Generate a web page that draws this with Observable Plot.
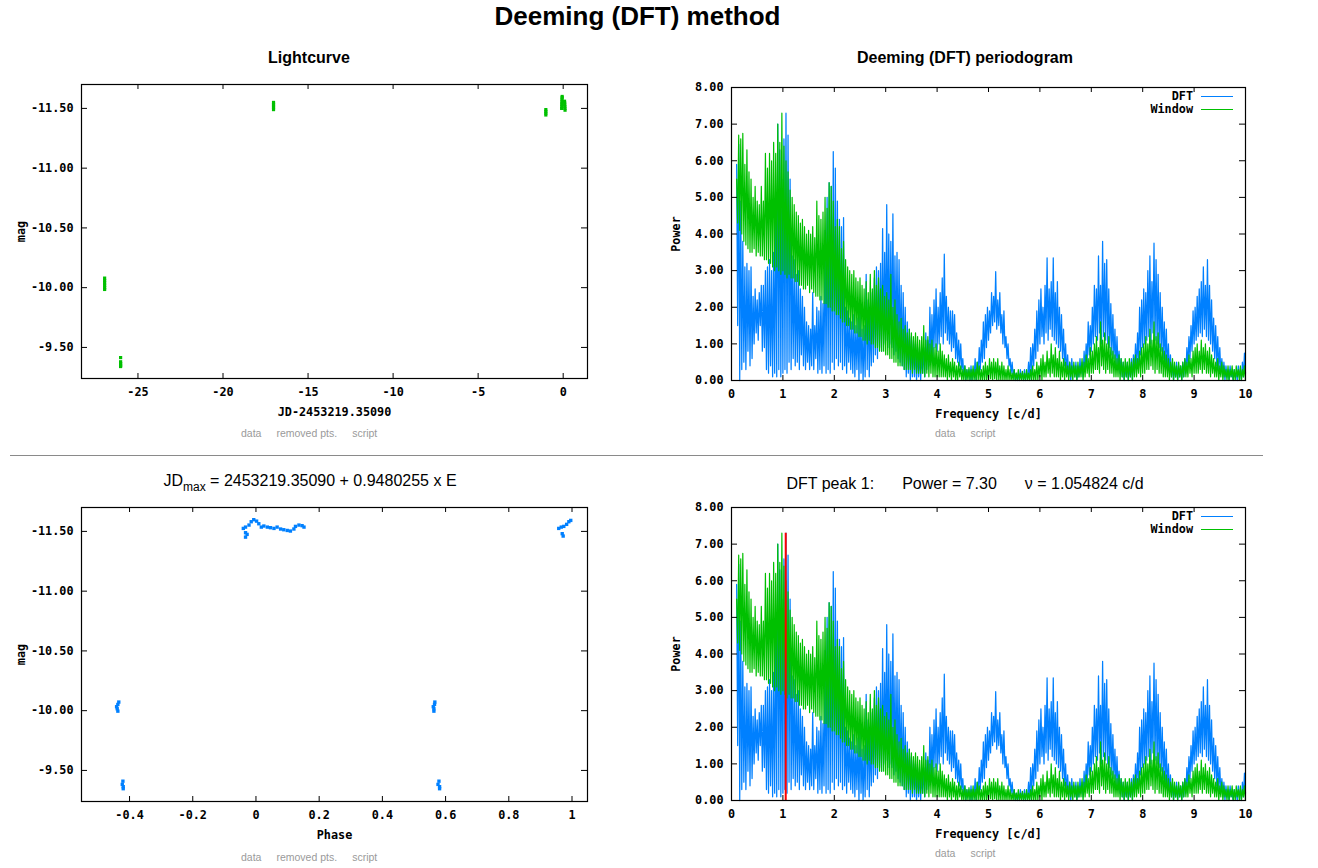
<!DOCTYPE html>
<html>
<head>
<meta charset="utf-8">
<script src="https://cdn.jsdelivr.net/npm/d3@7"></script>
<script src="https://cdn.jsdelivr.net/npm/@observablehq/plot@0.6"></script>
<style>
  body { margin: 0; background: #fff; }
  #root { position: relative; width: 1318px; height: 868px; overflow: hidden; background: #fff;
          font-family: "Liberation Sans", Arial, sans-serif; color: #000; }
  .abs { position: absolute; white-space: pre; }
  .main-title { left: 0; width: 1275px; top: 3px; text-align: center; font-size: 26px; line-height: 26px; font-weight: bold; }
  .sub-title { width: 600px; text-align: center; font-size: 16px; line-height: 16px; font-weight: bold; }
  .info { width: 600px; text-align: center; font-size: 16px; line-height: 16px; }
  .info sub { font-size: 12px; vertical-align: -5px; line-height: 0; }
  .links { font-size: 10.5px; line-height: 12px; color: #9a9a9a; }
  .links span { margin-right: 15px; }
  .sep { left: 10px; width: 1253px; height: 1px; background: #8a8a8a; top: 455px; }
  .legend-text { font-family: "DejaVu Sans Mono", monospace; font-weight: bold; font-size: 11.8px; line-height: 12px; text-align: right; width: 80px; }
  .legend-line { height: 1px; width: 32px; }
  .panel { position: absolute; }
  .panel svg { overflow: visible; }
</style>
</head>
<body>
<div id="root"></div>
<script>
// ---------------- data ----------------
// Lightcurve (JD - 2453219.35090, mag)
const lcTime = [-26.96, -26.96, -26.96, -26.96, -26.96, -26.96,
                -26.02, -26.02, -26.02, -26.02, -26.02,
                -17.03, -17.03, -17.03, -17.03, -17.03,
                -1.02, -1.02, -1.02, -1.02,
                -0.09, -0.08, -0.08, -0.08, -0.07, -0.07, -0.06, -0.06,
                0.08, 0.09, 0.09, 0.10, 0.10, 0.11];
const lcMag = [-10.08, -10.06, -10.04, -10.02, -10.00, -9.985,
               -9.415, -9.38, -9.365, -9.35, -9.34,
               -11.55, -11.535, -11.52, -11.505, -11.49,
               -11.49, -11.475, -11.46, -11.445,
               -11.50, -11.515, -11.53, -11.545, -11.56, -11.575, -11.59, -11.60,
               -11.56, -11.545, -11.53, -11.515, -11.50, -11.485];

// Phase diagram (phase, mag)
const phPhase = [-0.040, -0.033, -0.022, -0.015, -0.007, 0.002, 0.009, 0.017, 0.025, 0.036, 0.046, 0.057,
                 0.067, 0.078, 0.088, 0.099, 0.109, 0.120, 0.125, 0.136, 0.146, 0.152,
                 -0.033, -0.033, -0.028,
                 0.958, 0.966, 0.974, 0.983, 0.990, 0.996, 0.969, 0.972,
                 -0.434, -0.437, -0.441, -0.439, -0.437,
                 -0.421, -0.423, -0.420, -0.420,
                 0.566, 0.565, 0.561, 0.563, 0.563,
                 0.579, 0.576, 0.581, 0.581];
const phMag = [-11.525, -11.536, -11.553, -11.581, -11.598, -11.586, -11.564, -11.536, -11.545, -11.536, -11.531, -11.525,
               -11.536, -11.520, -11.514, -11.508, -11.503, -11.520, -11.542, -11.553, -11.548, -11.536,
               -11.489, -11.452, -11.475,
               -11.525, -11.536, -11.542, -11.559, -11.581, -11.592, -11.481, -11.461,
               -10.072, -10.052, -10.033, -10.016, -9.996,
               -9.410, -9.383, -9.364, -9.347,
               -10.072, -10.052, -10.033, -10.016, -9.996,
               -9.410, -9.383, -9.364, -9.347];

// Periodogram: alternating spike maxima / minima
// maxima at freqStart + j*freqStep, minima half a step later; one row per c/d
const freqStart = 0.10;
const freqStep = 0.04;
const dftHigh = [
  5.9, 6.45, 4.9, 3.8, 3.1, 3.2, 3.0, 3.1, 2.3, 2.5, 2.2, 2.4, 2.6, 2.6, 3.0, 3.1, 3.3, 3.0, 3.5, 4.6, 7.0, 6.3, 5.5, 6.6, 7.3,
  6.7, 5.5, 3.4, 3.3, 2.9, 3.0, 2.5, 2.3, 2.0, 1.6, 1.5, 1.4, 2.4, 1.5, 2.0, 1.9, 2.3, 2.1, 4.1, 5.0, 5.4, 5.3, 6.25, 5.8, 4.9,
  4.4, 4.2, 4.45, 2.0, 1.9, 1.7, 1.6, 1.8, 1.5, 1.7, 2.0, 1.4, 1.5, 2.9, 2.2, 1.8, 2.4, 2.8, 3.1, 3.0, 3.2, 4.15, 3.5, 4.8, 4.0,
  3.8, 4.55, 3.4, 3.5, 3.3, 2.6, 2.4, 2.0, 1.6, 1.4, 1.2, 1.1, 1.0, 0.9, 0.8, 0.7, 0.9, 1.3, 1.1, 2.0, 1.8, 2.2, 2.5, 2.0, 2.4,
  2.8, 3.45, 2.3, 2.0, 1.9, 1.9, 1.8, 1.3, 1.1, 1.0, 0.6, 0.4, 0.3, 0.3, 0.4, 0.3, 0.6, 0.5, 0.9, 1.1, 1.6, 1.8, 2.0, 1.9, 2.4,
  2.3, 2.97, 2.2, 2.4, 1.8, 1.9, 1.2, 1.0, 0.6, 0.5, 0.3, 0.2, 0.2, 0.3, 0.2, 0.3, 0.2, 0.5, 0.9, 1.0, 1.4, 1.9, 2.2, 2.5, 2.0,
  2.6, 3.35, 2.5, 2.7, 3.35, 2.4, 2.7, 2.0, 1.8, 1.4, 1.0, 0.7, 0.5, 0.6, 0.4, 0.5, 0.4, 0.6, 0.5, 0.8, 1.0, 1.6, 1.5, 2.0, 2.6,
  2.5, 3.4, 2.6, 3.8, 3.2, 3.3, 2.5, 2.1, 1.8, 1.4, 1.2, 0.8, 0.6, 0.5, 0.4, 0.5, 0.4, 0.6, 0.7, 1.0, 1.3, 2.0, 2.2, 2.5, 2.4,
  3.0, 3.4, 2.7, 3.75, 3.3, 2.9, 2.4, 2.0, 1.6, 1.4, 1.0, 0.7, 0.5, 0.4, 0.5, 0.4, 0.4, 0.5, 0.6, 0.9, 1.2, 1.5, 1.9, 2.0, 2.3,
  2.5, 2.7, 3.1, 2.6, 3.3, 2.6, 2.2, 1.7, 1.5, 1.2, 0.9, 0.6, 0.5, 0.4, 0.3, 0.4, 0.2, 0.3, 0.2, 0.4, 0.3, 0.5, 0.75
];
const dftLow = [
  1.5, 0.0, 0.3, 0.5, 0.3, 0.8, 0.4, 0.6, 1.0, 1.3, 1.1, 1.5, 0.8, 0.9, 0.3, 0.2, 0.4, 0.1, 0.2, 0.1, 0.3, 0.1, 0.2, 0.3, 0.2,
  0.5, 0.3, 0.6, 0.4, 0.5, 0.3, 0.7, 0.4, 0.3, 0.5, 0.3, 0.4, 0.3, 0.6, 0.2, 0.3, 0.2, 0.4, 0.2, 0.3, 0.2, 0.5, 0.3, 0.6, 0.4,
  0.5, 0.3, 0.4, 0.2, 0.5, 0.3, 0.2, 0.1, 0.3, 0.0, 0.2, 0.0, 0.1, 0.3, 0.1, 0.4, 0.5, 0.7, 0.6, 0.9, 0.8, 1.0, 1.1, 0.9, 1.0,
  0.9, 0.7, 0.8, 0.6, 0.5, 0.4, 0.3, 0.1, 0.2, 0.0, 0.1, 0.1, 0.0, 0.1, 0.0, 0.2, 0.1, 0.3, 0.4, 0.5, 0.6, 0.9, 0.8, 1.0, 1.2,
  1.0, 1.3, 1.1, 1.0, 0.8, 0.9, 0.6, 0.5, 0.4, 0.3, 0.1, 0.0, 0.1, 0.0, 0.0, 0.1, 0.0, 0.2, 0.3, 0.5, 0.6, 0.9, 1.1, 1.3, 1.5,
  1.6, 1.4, 1.5, 1.3, 1.0, 0.9, 0.6, 0.4, 0.2, 0.1, 0.0, 0.0, 0.0, 0.1, 0.0, 0.0, 0.1, 0.0, 0.2, 0.4, 0.6, 0.8, 1.0, 1.2, 1.0,
  1.3, 1.1, 1.4, 1.2, 1.1, 1.0, 0.9, 0.8, 0.6, 0.4, 0.2, 0.1, 0.0, 0.2, 0.1, 0.0, 0.1, 0.2, 0.1, 0.3, 0.5, 0.7, 0.8, 1.0, 1.2,
  1.1, 1.3, 1.0, 1.2, 1.1, 1.0, 0.9, 0.7, 0.6, 0.4, 0.3, 0.2, 0.1, 0.0, 0.1, 0.0, 0.1, 0.0, 0.2, 0.3, 0.5, 0.7, 0.9, 1.0, 1.1,
  1.2, 1.0, 1.3, 1.1, 1.0, 0.9, 0.8, 0.6, 0.5, 0.3, 0.2, 0.1, 0.0, 0.1, 0.0, 0.1, 0.0, 0.1, 0.2, 0.4, 0.6, 0.8, 1.0, 1.1, 1.2,
  1.3, 1.2, 1.4, 1.2, 1.1, 1.0, 0.8, 0.6, 0.4, 0.3, 0.2, 0.1, 0.0, 0.1, 0.0, 0.1, 0.0, 0.1, 0.0, 0.1, 0.0, 0.1, 0.2
];
const winHigh = [
  5.5, 6.7, 6.6, 6.75, 5.9, 6.3, 5.7, 5.5, 5.0, 5.3, 4.9, 4.8, 5.3, 4.9, 6.2, 5.8, 6.2, 6.0, 6.5, 6.2, 7.0, 6.5, 7.3, 6.4, 6.0,
  5.7, 5.2, 5.0, 4.8, 4.6, 4.5, 4.3, 4.4, 4.2, 4.0, 4.1, 4.0, 4.2, 3.9, 4.9, 4.5, 4.4, 4.6, 5.0, 4.7, 5.4, 5.3, 4.9, 4.2, 4.4,
  4.2, 3.6, 3.8, 3.3, 3.1, 3.0, 2.9, 3.0, 2.8, 2.7, 2.8, 2.6, 2.5, 2.7, 2.4, 2.9, 2.5, 3.0, 2.6, 2.8, 2.5, 2.6, 2.3, 2.4, 2.2,
  2.9, 2.0, 2.2, 1.8, 1.6, 1.7, 1.4, 1.5, 1.3, 1.4, 1.3, 1.2, 1.3, 1.2, 1.1, 1.2, 1.5, 1.1, 1.2, 1.0, 1.1, 0.9, 1.0, 0.8, 1.0,
  0.8, 0.7, 0.6, 0.7, 0.5, 0.6, 0.5, 0.4, 0.5, 0.4, 0.3, 0.4, 0.3, 0.35, 0.3, 0.4, 0.3, 0.5, 0.4, 0.3, 0.4, 0.5, 0.4, 0.6, 0.5,
  0.6, 0.5, 0.6, 0.4, 0.5, 0.4, 0.3, 0.4, 0.3, 0.2, 0.3, 0.2, 0.3, 0.2, 0.25, 0.2, 0.3, 0.2, 0.3, 0.4, 0.3, 0.5, 0.4, 0.6, 0.7,
  0.5, 0.8, 0.6, 1.0, 0.7, 0.9, 0.6, 0.8, 0.5, 0.6, 0.5, 0.4, 0.5, 0.4, 0.5, 0.4, 0.5, 0.4, 0.6, 0.5, 0.7, 0.6, 0.9, 0.8, 1.0,
  1.2, 0.9, 1.6, 1.1, 1.3, 1.0, 1.2, 0.9, 0.8, 0.7, 0.6, 0.7, 0.6, 0.5, 0.6, 0.5, 0.6, 0.5, 0.6, 0.7, 0.6, 0.8, 0.9, 1.0, 1.2,
  1.0, 1.4, 1.1, 1.6, 1.2, 1.3, 1.0, 0.9, 0.8, 0.7, 0.6, 0.5, 0.6, 0.5, 0.4, 0.5, 0.4, 0.5, 0.6, 0.5, 0.7, 0.6, 0.8, 0.9, 1.0,
  0.8, 1.1, 0.9, 1.0, 0.8, 0.9, 0.7, 0.6, 0.5, 0.6, 0.4, 0.5, 0.4, 0.3, 0.4, 0.3, 0.4, 0.3, 0.4, 0.3, 0.4, 0.3, 0.4
];
const winLow = [
  4.3, 4.1, 4.0, 3.8, 3.7, 3.6, 3.5, 3.5, 3.6, 3.4, 3.5, 3.4, 3.4, 3.3, 3.3, 3.2, 3.2, 3.1, 3.0, 3.1, 3.0, 2.9, 3.0, 2.9, 2.8,
  2.9, 2.8, 2.8, 2.7, 2.7, 2.6, 2.6, 2.5, 2.5, 2.6, 2.4, 2.5, 2.4, 2.3, 2.3, 2.2, 2.2, 2.1, 2.1, 2.0, 2.0, 1.9, 1.9, 1.8, 1.8,
  1.7, 1.6, 1.6, 1.5, 1.5, 1.4, 1.4, 1.3, 1.3, 1.2, 1.2, 1.1, 1.1, 1.0, 1.1, 1.0, 1.0, 0.9, 0.9, 0.8, 0.8, 0.8, 0.7, 0.7, 0.6,
  0.6, 0.5, 0.5, 0.4, 0.4, 0.4, 0.3, 0.3, 0.3, 0.3, 0.2, 0.3, 0.2, 0.2, 0.2, 0.2, 0.1, 0.2, 0.1, 0.2, 0.1, 0.1, 0.1, 0.1, 0.1,
  0.1, 0.1, 0.0, 0.1, 0.0, 0.1, 0.0, 0.0, 0.1, 0.0, 0.0, 0.0, 0.0, 0.0, 0.0, 0.0, 0.0, 0.0, 0.0, 0.0, 0.0, 0.0, 0.0, 0.05, 0.0,
  0.05, 0.0, 0.0, 0.0, 0.0, 0.0, 0.0, 0.0, 0.0, 0.0, 0.0, 0.0, 0.0, 0.0, 0.0, 0.0, 0.0, 0.0, 0.0, 0.0, 0.0, 0.0, 0.1, 0.0, 0.1,
  0.1, 0.2, 0.1, 0.2, 0.1, 0.1, 0.1, 0.0, 0.1, 0.0, 0.1, 0.0, 0.1, 0.0, 0.1, 0.0, 0.1, 0.1, 0.0, 0.1, 0.2, 0.1, 0.2, 0.2, 0.3,
  0.3, 0.2, 0.4, 0.3, 0.2, 0.3, 0.2, 0.2, 0.1, 0.1, 0.1, 0.0, 0.1, 0.0, 0.1, 0.0, 0.1, 0.0, 0.1, 0.1, 0.2, 0.1, 0.2, 0.2, 0.3,
  0.3, 0.4, 0.3, 0.2, 0.3, 0.2, 0.2, 0.1, 0.1, 0.1, 0.0, 0.1, 0.0, 0.1, 0.0, 0.1, 0.0, 0.1, 0.1, 0.1, 0.2, 0.1, 0.2, 0.2, 0.2,
  0.3, 0.2, 0.3, 0.2, 0.2, 0.1, 0.2, 0.1, 0.1, 0.0, 0.1, 0.0, 0.1, 0.0, 0.0, 0.1, 0.0, 0.0, 0.1, 0.0, 0.0, 0.1, 0.0
];
const peakFreq = 1.054824;
const peakPower = 7.30;
const epochJD = "2453219.35090";
const periodDays = "0.9480255";

// Axis ticks and ranges
const jdTicks = [-25, -20, -15, -10, -5, 0];
const magTicks = [-11.5, -11.0, -10.5, -10.0, -9.5];
const phaseTicks = [-0.4, -0.2, 0, 0.2, 0.4, 0.6, 0.8, 1];
const freqTicks = [0, 1, 2, 3, 4, 5, 6, 7, 8, 9, 10];
const powerTicks = [0, 1, 2, 3, 4, 5, 6, 7, 8];
const jdDomain = [-28.32, 1.43];
const magDomain = [-9.24, -11.70];
const phaseDomain = [-0.552, 1.049];
const freqDomain = [0, 10];
const powerDomain = [0, 8];

// colours
const cGreen = "#00c000";
const cBlue = "#0080ff";
const cRed = "#ff0000";

// ---------------- helpers ----------------
const root = document.getElementById("root");
function add(cls, html, style) {
  const d = document.createElement("div");
  d.className = "abs " + cls;
  d.innerHTML = html;
  Object.assign(d.style, style || {});
  root.appendChild(d);
  return d;
}

function zigzag(high, low) {
  const out = [];
  high.forEach((h, j) => {
    out.push({f: freqStart + freqStep * j, p: h});
    out.push({f: freqStart + freqStep * j + freqStep / 2, p: low[j]});
  });
  return out;
}

function panel(o) {
  const fw = o.width - o.ml - o.mr, fh = o.height - o.mt - o.mb;
  const svg = Plot.plot({
    width: o.width, height: o.height,
    marginTop: o.mt, marginRight: o.mr, marginBottom: o.mb, marginLeft: o.ml,
    style: {fontFamily: '"DejaVu Sans Mono", monospace', fontSize: "11.8px", fontWeight: "bold",
            background: "transparent", color: "black", overflow: "visible"},
    x: {domain: o.xDomain},
    y: {domain: o.yDomain},
    marks: [
      ...o.marks,
      Plot.ruleX(o.xTicks, {insetTop: fh - 5, stroke: "black"}),
      Plot.ruleX(o.xTicks, {insetBottom: fh - 5, stroke: "black"}),
      Plot.ruleY(o.yTicks, {insetRight: fw - 6, stroke: "black"}),
      Plot.ruleY(o.yTicks, {insetLeft: fw - 6, stroke: "black"}),
      Plot.frame({stroke: "black", strokeWidth: 1.2}),
      Plot.axisX(o.xTicks, {anchor: "bottom", tickSize: 0, tickPadding: 9, tickFormat: o.xFmt,
        label: o.xLabel, labelAnchor: "center", labelOffset: 37, labelArrow: "none"}),
      Plot.axisY(o.yTicks, {anchor: "left", tickSize: 0, tickPadding: 8, tickFormat: o.yFmt,
        label: o.yLabel, labelAnchor: "center", labelOffset: o.yLabelOffset, labelArrow: "none"})
    ]
  });
  const wrap = document.createElement("div");
  wrap.className = "panel";
  wrap.style.left = o.left + "px";
  wrap.style.top = o.top + "px";
  wrap.appendChild(svg);
  root.appendChild(wrap);
}

const fmt2 = d => d.toFixed(2);
const fmtPlain = d => String(d);

// ---------------- texts ----------------
add("main-title", "Deeming (DFT) method");
add("sub-title", "Lightcurve", {left: "9px", top: "50px"});
add("sub-title", "Deeming (DFT) periodogram", {left: "665px", top: "50px"});
add("info", `JD<sub>max</sub> = ${epochJD} + ${periodDays} x E`, {left: "10px", top: "473px"});
add("info", `DFT peak 1:<span style="margin-left:28px">Power = ${peakPower.toFixed(2)}</span><span style="margin-left:28px">ν = ${peakFreq.toFixed(6)} c/d</span>`,
    {left: "665px", top: "476px"});
add("sep", "");

function links(x, y, withRemoved) {
  add("links", `<span>data</span>${withRemoved ? "<span>removed pts.</span>" : ""}<span style="margin-right:0">script</span>`,
      {left: x + "px", top: y + "px"});
}
links(241, 427, true);
links(935, 427, false);
links(241, 851, true);
links(935, 847, false);

function legend(top) {
  add("legend-text", "DFT", {left: "1113px", top: (top - 6) + "px"});
  add("legend-line", "", {left: "1201px", top: top + "px", background: cBlue});
  add("legend-text", "Window", {left: "1113px", top: (top + 7) + "px"});
  add("legend-line", "", {left: "1201px", top: (top + 13) + "px", background: cGreen});
}

// ---------------- panels ----------------
const lcData = lcTime.map((t, i) => ({t, m: lcMag[i]}));
const phData = phPhase.map((p, i) => ({p, m: phMag[i]}));
const dftLine = zigzag(dftHigh, dftLow);
const winLine = zigzag(winHigh, winLow);

panel({
  left: 0, top: 70, width: 600, height: 355, mt: 14, mr: 13, mb: 47, ml: 81,
  xDomain: jdDomain, yDomain: magDomain, xTicks: jdTicks, yTicks: magTicks,
  xFmt: fmtPlain, yFmt: fmt2, xLabel: "JD-2453219.35090", yLabel: "mag", yLabelOffset: 65,
  marks: [Plot.dot(lcData, {x: "t", y: "m", symbol: "square", r: 1.8, fill: cGreen, stroke: null})]
});

function periodogram(top, mt, mb, withPeak) {
  panel({
    left: 650, top, width: 610, height: 355, mt, mr: 15, mb, ml: 81,
    xDomain: freqDomain, yDomain: powerDomain, xTicks: freqTicks, yTicks: powerTicks,
    xFmt: fmtPlain, yFmt: fmt2, xLabel: "Frequency [c/d]", yLabel: "Power", yLabelOffset: 60,
    marks: [
      Plot.line(dftLine, {x: "f", y: "p", stroke: cBlue, strokeWidth: 1.25}),
      Plot.line(winLine, {x: "f", y: "p", stroke: cGreen, strokeWidth: 1.2}),
      ...(withPeak ? [Plot.ruleX([{f: peakFreq, p: peakPower}], {x: "f", y1: () => 0, y2: "p", stroke: cRed, strokeWidth: 2})] : [])
    ]
  });
}
periodogram(70, 17, 45, false);
legend(96);

panel({
  left: 0, top: 490, width: 600, height: 355, mt: 17, mr: 13, mb: 44, ml: 81,
  xDomain: phaseDomain, yDomain: magDomain, xTicks: phaseTicks, yTicks: magTicks,
  xFmt: fmtPlain, yFmt: fmt2, xLabel: "Phase", yLabel: "mag", yLabelOffset: 65,
  marks: [Plot.dot(phData, {x: "p", y: "m", symbol: "square", r: 1.9, fill: cBlue, stroke: null})]
});

periodogram(490, 17, 45, true);
legend(516);
</script>
</body>
</html>
